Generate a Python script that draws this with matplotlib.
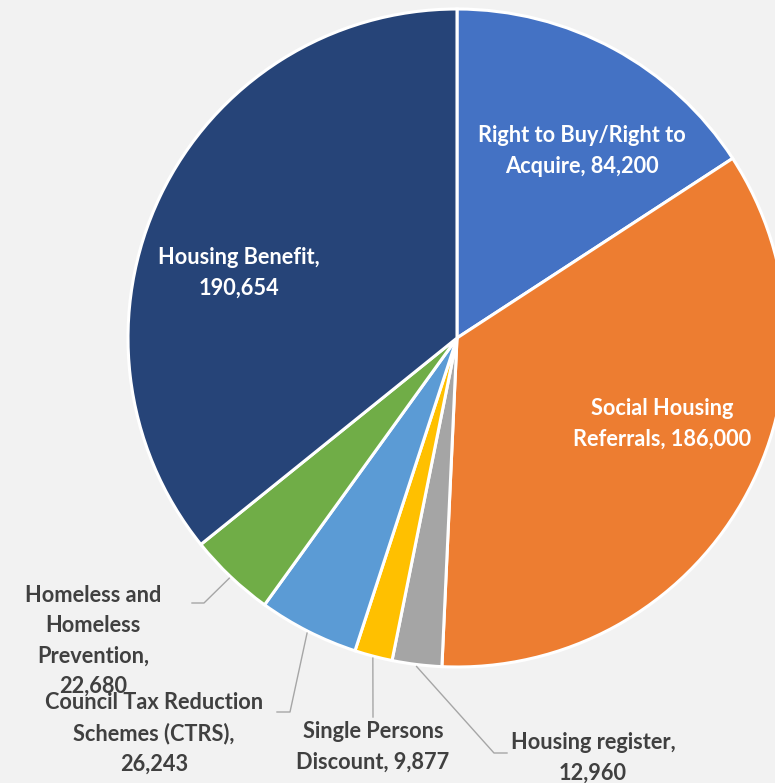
import numpy as np
import matplotlib
matplotlib.use("Agg")
import matplotlib.pyplot as plt

plt.rcParams['font.family'] = ['Lato', 'DejaVu Sans']

categories = [
    "Right to Buy/Right to\nAcquire",
    "Social Housing\nReferrals",
    "Housing register",
    "Single Persons\nDiscount",
    "Council Tax Reduction\nSchemes (CTRS)",
    "Homeless and\nHomeless\nPrevention",
    "Housing Benefit",
]
values = [84200, 186000, 12960, 9877, 26243, 22680, 190654]
colors = ["#4472C4", "#ED7D31", "#A5A5A5", "#FFC000", "#5B9BD5", "#70AD47", "#264478"]

# label text, centre position (pixels from top-left), inside/outside
label_text = [
    "Right to Buy/Right to\nAcquire, {v}",
    "Social Housing\nReferrals, {v}",
    "Housing register,\n{v}",
    "Single Persons\nDiscount, {v}",
    "Council Tax Reduction\nSchemes (CTRS),\n{v}",
    "Homeless and\nHomeless\nPrevention,\n{v}",
    "Housing Benefit,\n{v}",
]
label_pos = [(582, 151), (662, 424), (593, 758), (373, 747), (154, 733), (93, 641), (239, 273)]
inside = [True, True, False, False, False, False, True]
# leader line bend point and end point for outside labels
leader_pts = {
    2: [(494, 753), (507, 753)],
    3: [(373, 717)],
    4: [(290, 712), (277, 712)],
    5: [(204, 603), (192, 603)],
}

W, H = 775, 783
fig = plt.figure(figsize=(W / 100, H / 100), dpi=100)
fig.patch.set_facecolor("#F2F2F2")
ax = fig.add_axes([0, 0, 1, 1])

cx, cy, r = 457, H - 338, 329
wedges, _ = ax.pie(values, colors=colors, startangle=90, counterclock=False,
                   center=(cx, cy), radius=r, frame=True,
                   wedgeprops=dict(edgecolor="white", linewidth=2.2))
ax.set_xlim(0, W)
ax.set_ylim(0, H)
ax.set_aspect("equal")
ax.axis("off")

fs = 15.7
for i, (txt, v) in enumerate(zip(label_text, values)):
    x, y = label_pos[i]
    ax.text(x, H - y, txt.format(v=f"{v:,}"), ha="center", va="center",
            fontsize=fs, fontweight="bold", linespacing=1.55,
            color="white" if inside[i] else "#404040")
    if i in leader_pts:
        w = wedges[i]
        mid = np.deg2rad((w.theta1 + w.theta2) / 2)
        sx, sy = cx + (r + 2) * np.cos(mid), cy + (r + 2) * np.sin(mid)
        xs = [sx] + [p[0] for p in leader_pts[i]]
        ys = [sy] + [H - p[1] for p in leader_pts[i]]
        ax.plot(xs, ys, color="#A6A6A6", linewidth=1.0)

fig.savefig("out.png", dpi=100, facecolor=fig.get_facecolor())
